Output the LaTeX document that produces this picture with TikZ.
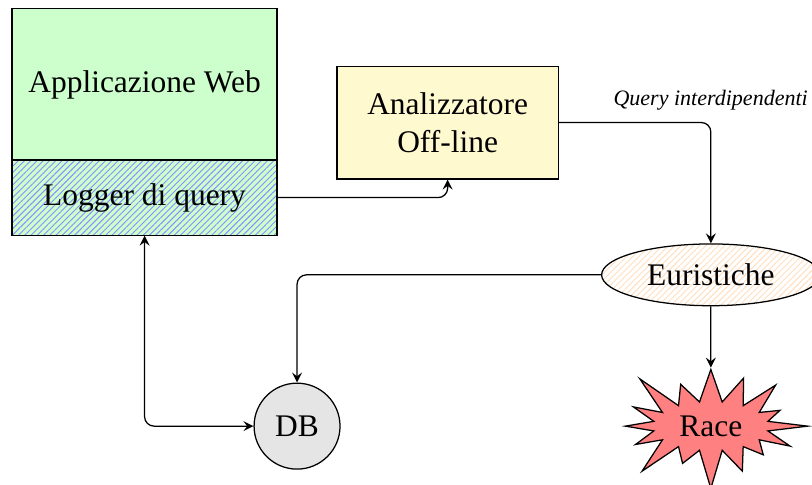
\documentclass[tikz,border=0pt]{standalone}
\usepackage{fontspec}
\setmainfont{Liberation Serif}
\usetikzlibrary{shapes.geometric,shapes.symbols,patterns.meta}
\definecolor{offline}{HTML}{FFF9D0}
\tikzset{
  blocco/.style={draw,rectangle,inner sep=0pt},
  freccia/.style={-stealth,rounded corners=3pt},
  tratteggio/.style={pattern={Lines[angle=45,distance=1.4pt,line width=0.3pt]}},
}
\begin{document}
\begin{tikzpicture}
        \def\bw{2.96}
        \def\bx{1.615}
        \useasboundingbox (0,0) rectangle (9.07,-5.41);
        % applicazione con il logger sotto
        \node[blocco,fill=green!20,minimum width=\bw cm,minimum height=1.69cm] (web) at (\bx,-0.944) {Applicazione Web};
        \node[blocco,minimum width=\bw cm,minimum height=0.84cm,preaction={fill=green!20},
              tratteggio,pattern color=blue!45] (logger) at (\bx,-2.207) {Logger di query};
        \node[blocco,fill=offline,align=center,minimum width=2.47cm,minimum height=1.26cm] (ana) at (5.0,-1.369) {Analizzatore\\Off-line};
        \node[draw,ellipse,inner sep=0pt,minimum width=2.44cm,minimum height=0.69cm,
              tratteggio,pattern color=orange!25] (eur) at (7.94,-3.07) {Euristiche};
        \node[draw,starburst,fill=red!50,starburst points=16,starburst point height=0.5cm,
              minimum width=2.3cm,minimum height=1.55cm,inner sep=0pt] (race) at (7.94,-4.76) {Race};
        \node[draw,circle,fill=gray!20,minimum size=0.96cm,inner sep=0pt] (db) at (3.318,-4.76) {DB};
        \node[anchor=base east,font=\scriptsize\itshape,inner sep=0pt] (qi) at (9.03,-1.18) {Query interdipendenti};
        % collegamenti
        \draw[freccia] (logger.east) -| (ana.south);
        \draw[freccia] (ana.east) -| (eur.north);
        \draw[freccia] (eur.west) -| (db.north);
        \draw[freccia] (eur.south) -- (race.north);
        \draw[freccia,stealth-stealth] (logger.south) |- (db.west);
\end{tikzpicture}
\end{document}
